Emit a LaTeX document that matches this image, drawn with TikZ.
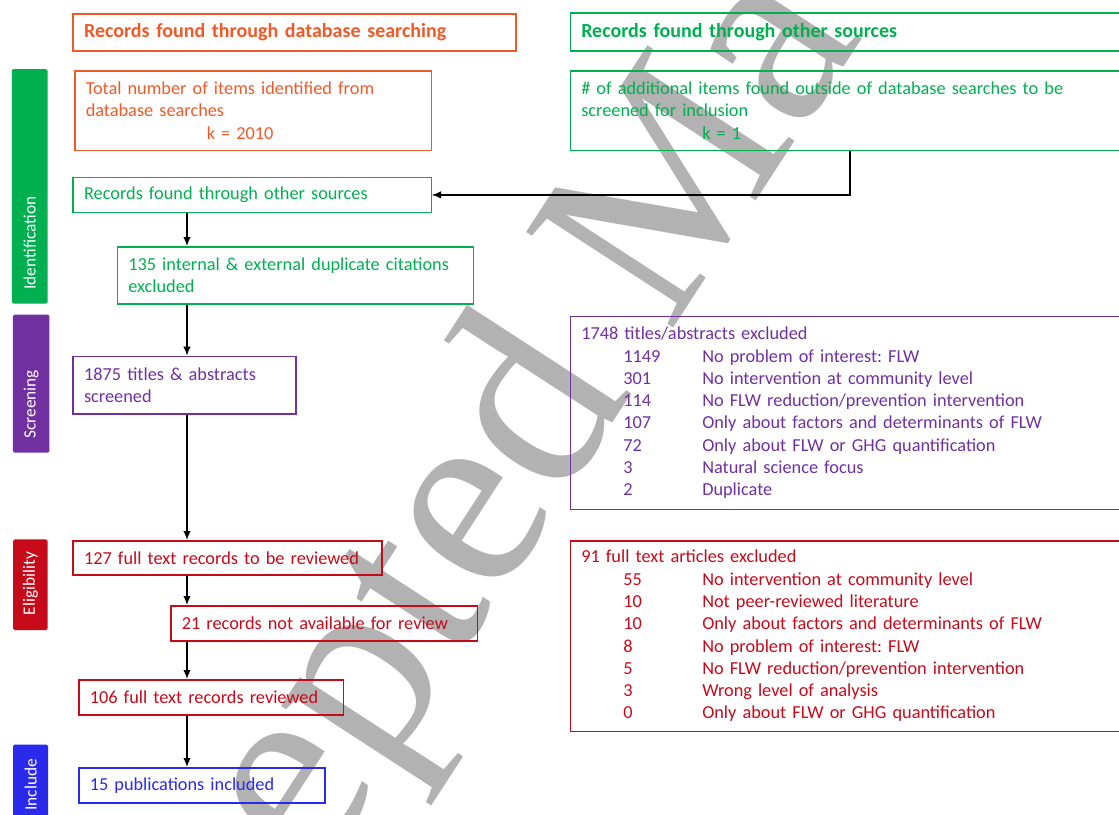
\documentclass[tikz,border=0pt]{standalone}
\usepackage{fontspec}
\setmainfont{Carlito}
\newfontfamily\wmfont{Liberation Serif}
\usetikzlibrary{positioning,arrows.meta}
\definecolor{dborange}{RGB}{240,90,40}
\definecolor{idgreen}{RGB}{0,176,80}
\definecolor{scrpurple}{RGB}{112,48,160}
\definecolor{elired}{RGB}{198,10,26}
\definecolor{incblue}{RGB}{42,42,236}
\definecolor{wmgray}{RGB}{178,178,178}
\newcommand{\reason}[2]{\hspace*{42pt}\makebox[79pt][l]{#1}#2}

\begin{document}
\frenchspacing
\begin{tikzpicture}[x=1pt, y=-1pt]
    \tikzset{>={Latex[length=9pt,width=7.5pt]}}
    % Styles for boxes, stage bars and arrows
    \tikzstyle{box}        = [rectangle, draw, line width=1.5pt, inner xsep=11pt, inner ysep=0pt, align=left, anchor=north west, font=\fontsize{18.3}{22.3}\selectfont]
    \tikzstyle{head}       = [box, font=\fontsize{20}{24}\selectfont\bfseries]
    \tikzstyle{stagebar}   = [rectangle, rounded corners=1.5pt, inner sep=0pt]
    \tikzstyle{stagetext}  = [rotate=90, anchor=west, inner sep=0pt, text=white, font=\fontsize{17.3}{20}\selectfont]
    \tikzstyle{flow}       = [->, line width=1.4pt]
    \tikzstyle{shadowline} = [line width=2.5pt, draw=black!25, opacity=0.6]
    \tikzstyle{watermark}  = [text=wmgray, inner sep=0pt, anchor=base west, rotate=57, font=\wmfont\fontsize{268}{270}\selectfont]

    \useasboundingbox (0,0) rectangle (1119,814);
    \clip (0,0) rectangle (1119,814);

    % Watermark
    \node[watermark] (wm) at (82,1240) {Accepted Ma};

    % Stage bars
    \node[stagebar, fill=idgreen,   minimum width=35.7pt, minimum height=234.5pt] (idbar)  at (29.7,186.3) {};
    \node[stagebar, fill=scrpurple, minimum width=36.5pt, minimum height=138pt]   (scrbar) at (31.2,383.6) {};
    \node[stagebar, fill=elired,    minimum width=34.4pt, minimum height=90.7pt]  (elibar) at (30.4,584.7) {};
    \node[stagebar, fill=incblue,   minimum width=34.8pt, minimum height=80pt]    (incbar) at (30.6,784.5) {};
    \node[stagetext] (idlab)  at ([yshift=14pt]idbar.south)  {Identification};
    \node[stagetext] (scrlab) at ([yshift=14pt]scrbar.south) {Screening};
    \node[stagetext] (elilab) at ([yshift=15pt]elibar.south) {Eligibility};
    \node[stagetext] (inclab) at ([yshift=14pt]incbar.south) {Include};

    % Identification
    \node[head, draw=dborange, text=dborange, minimum height=37.4pt, text width=420.7pt] (dbhead) at (72.3,13) {Records found through database searching};
    \node[head, draw=idgreen, text=idgreen, minimum height=38.4pt, text width=538.5pt] (otherhead) at (569.5,12) {Records found through other sources};
    \node[box, draw=dborange, text=dborange, minimum height=79.5pt, text width=334.5pt] (dbtotal) at (74,70) {Total number of items identified from\\database searches\\\hspace*{121pt}k = 2010};
    \node[box, draw=idgreen, text=idgreen, minimum height=79.5pt, text width=538.5pt] (addl) at (569.5,70) {\# of additional items found outside of database searches to be\\screened for inclusion\\\hspace*{121pt}k = 1};
    \node[box, draw=idgreen, text=idgreen, minimum height=35.3pt, text width=336.2pt] (other) at (72.3,176.5) {Records found through other sources};
    \node[box, draw=idgreen, text=idgreen, minimum height=57pt, text width=334pt] (dup) at (116.5,246) {135 internal \& external duplicate citations\\excluded};

    % Screening
    \node[box, draw=scrpurple, text=scrpurple, minimum height=57.6pt, text width=200.7pt] (screened) at (72.3,355.7) {1875 titles \& abstracts\\screened};
    \node[box, draw=scrpurple, text=scrpurple, minimum height=193pt, text width=538.5pt] (absexcl) at (569.5,315.7) {1748 titles/abstracts excluded\\
        \reason{1149}{No problem of interest: FLW}\\
        \reason{301}{No intervention at community level}\\
        \reason{114}{No FLW reduction/prevention intervention}\\
        \reason{107}{Only about factors and determinants of FLW}\\
        \reason{72}{Only about FLW or GHG quantification}\\
        \reason{3}{Natural science focus}\\
        \reason{2}{Duplicate}};

    % Eligibility
    \node[box, draw=elired, text=elired, minimum height=34pt, text width=286.7pt] (fulltext) at (72.3,540) {127 full text records to be reviewed};
    \node[box, draw=elired, text=elired, minimum height=35pt, text width=284.5pt] (unavail) at (170,605) {21 records not available for review};
    \node[box, draw=elired, text=elired, minimum height=35pt, text width=242.7pt] (reviewed) at (78,679) {106 full text records reviewed};
    \node[box, draw=elired, text=elired, minimum height=190.5pt, text width=538.5pt] (ftexcl) at (569.5,540) {91 full text articles excluded\\
        \reason{55}{No intervention at community level}\\
        \reason{10}{Not peer-reviewed literature}\\
        \reason{10}{Only about factors and determinants of FLW}\\
        \reason{8}{No problem of interest: FLW}\\
        \reason{5}{No FLW reduction/prevention intervention}\\
        \reason{3}{Wrong level of analysis}\\
        \reason{0}{Only about FLW or GHG quantification}};

    % Include
    \node[box, draw=incblue, text=incblue, minimum height=35pt, text width=224pt] (included) at (78,767) {15 publications included};

    % Arrows
    \coordinate (spine) at (187,0);
    \coordinate (turn) at (850,0);
    \draw[shadowline, xshift=2pt, yshift=-3pt] (addl.south -| turn) |- (other.east);
    \draw[flow] (addl.south -| turn) |- (other.east);
    \draw[flow] (other.south -| spine)    -- (dup.north -| spine);
    \draw[flow] (dup.south -| spine)      -- (screened.north -| spine);
    \draw[flow] (screened.south -| spine) -- (fulltext.north -| spine);
    \draw[flow] (fulltext.south -| spine) -- (unavail.north -| spine);
    \draw[flow] (unavail.south -| spine)  -- (reviewed.north -| spine);
    \draw[flow] (reviewed.south -| spine) -- (included.north -| spine);
\end{tikzpicture}
\end{document}
